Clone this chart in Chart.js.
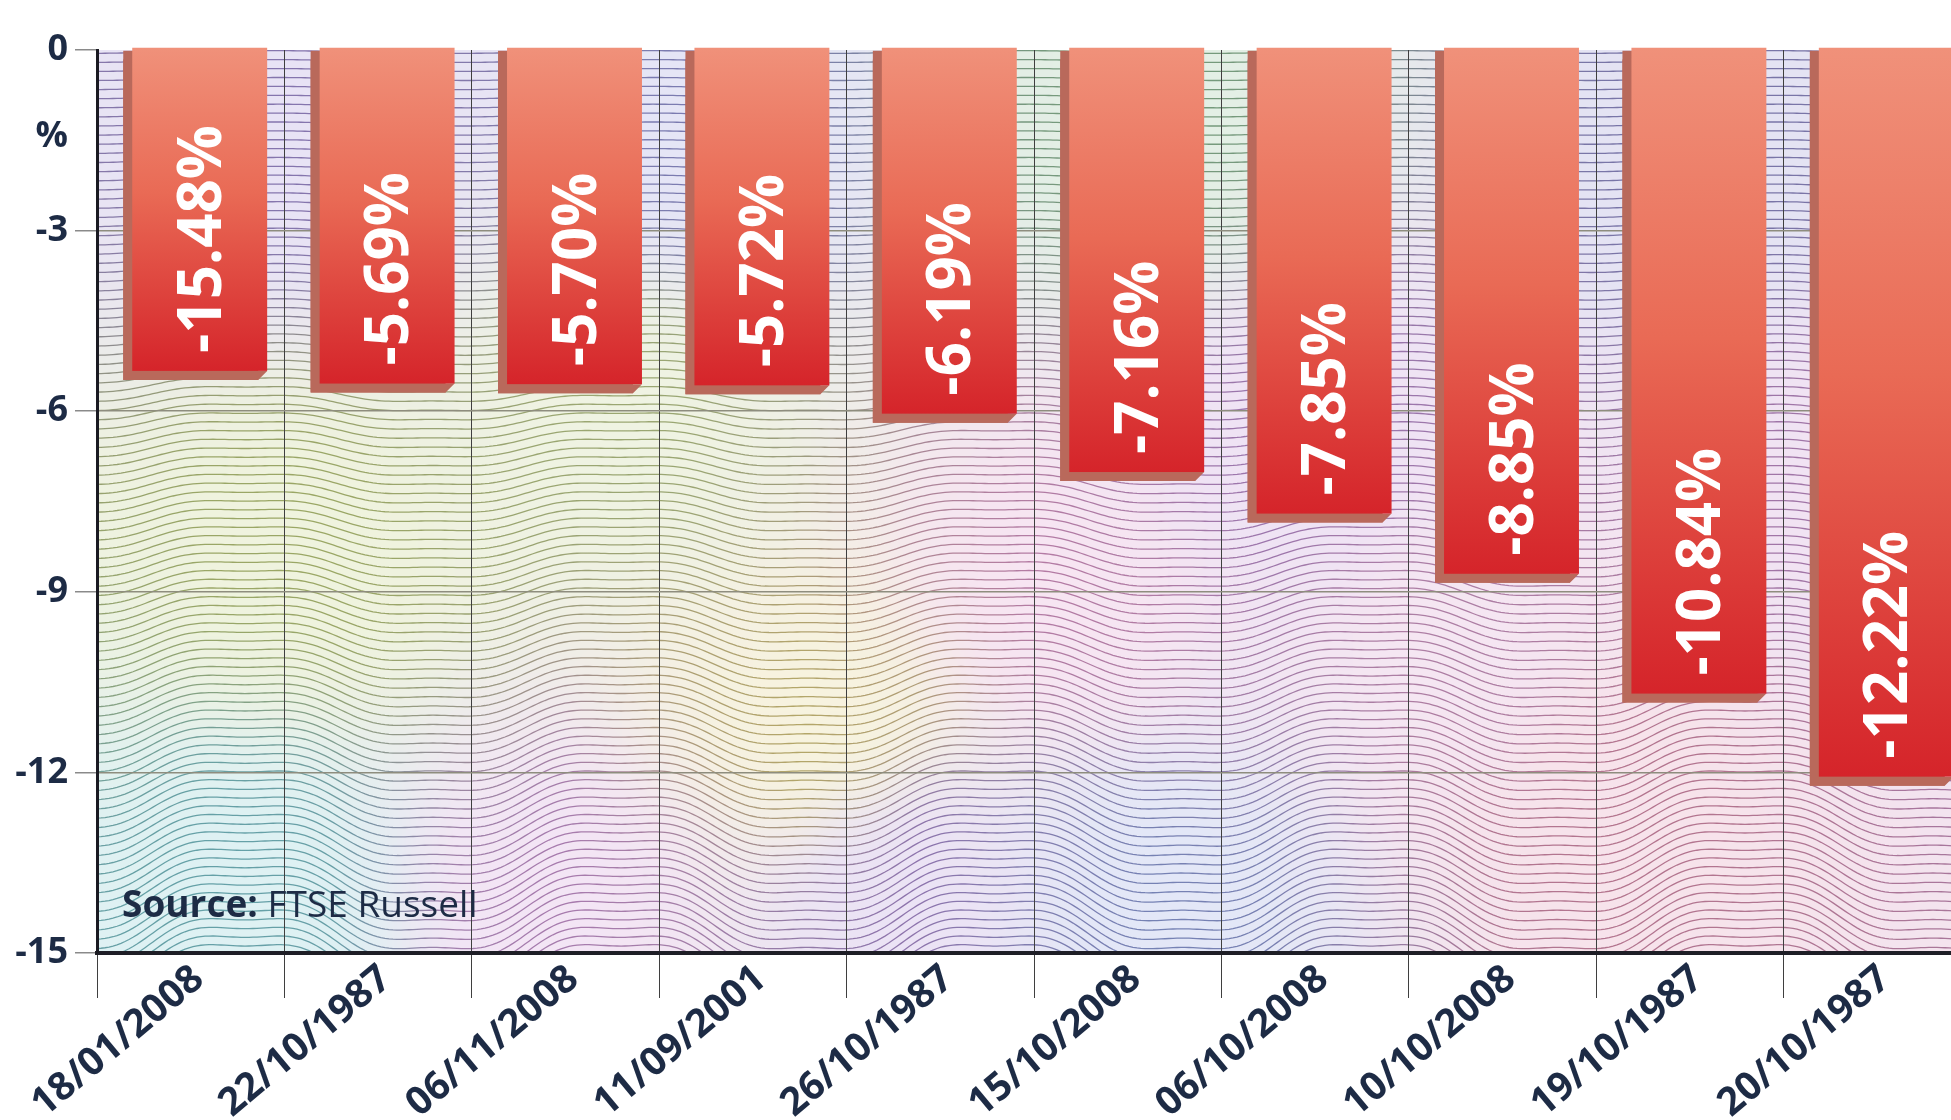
<!DOCTYPE html>
<html><head><meta charset="utf-8">
<script src="https://cdn.jsdelivr.net/npm/chart.js@4"></script>
<style>html,body{margin:0;padding:0;background:#fff;overflow:hidden;width:1951px;height:1120px}canvas{display:block}</style>
</head><body>
<canvas id="c" width="1975" height="1120"></canvas>
<script>
const categories = ['18/01/2008','22/10/1987','06/11/2008','11/09/2001','26/10/1987','15/10/2008','06/10/2008','10/10/2008','19/10/1987','20/10/1987'];
const values = [-5.48,-5.69,-5.70,-5.72,-6.19,-7.16,-7.85,-8.85,-10.84,-12.22];
const valueLabels = ['-15.48%','-5.69%','-5.70%','-5.72%','-6.19%','-7.16%','-7.85%','-8.85%','-10.84%','-12.22%'];
const yTicks = [0,-3,-6,-9,-12,-15];
const yUnit = '%';
const sourceBold = 'Source:';
const sourceRest = ' FTSE Russell';

const NAVY = '#1d2b45';
const FONT = '"Open Sans", "DejaVu Sans", sans-serif';
const DEPTH = 9;

// decorative colour field of the guilloche background (x, y in page pixels, rgb)
const tintAnchors = [
  [300, 150, [140,115,205]], [700, 150, [125,125,210]], [1150, 120, [115,175,125]],
  [1700, 150, [120,115,195]], [300, 550, [175,195,90]], [620, 420, [175,195,110]],
  [820, 720, [215,195,95]], [1050, 600, [215,125,190]], [1300, 450, [175,115,205]],
  [250, 900, [90,185,195]], [550, 900, [195,125,205]], [900, 880, [155,115,205]],
  [1150, 900, [115,135,215]], [1600, 800, [215,115,155]], [1850, 500, [185,115,195]],
  [1450, 650, [205,130,190]]
];
function fieldColor(x, y) {
  let s = 0, r = 0, g = 0, b = 0;
  for (const [ax, ay, c] of tintAnchors) {
    const d2 = (x - ax) * (x - ax) + (y - ay) * (y - ay) + 2000;
    const w = 1 / (d2 * d2);
    s += w; r += w * c[0]; g += w * c[1]; b += w * c[2];
  }
  return [r / s, g / s, b / s];
}

const bgPlugin = {
  id: 'bg',
  beforeDraw(chart) {
    const {ctx, chartArea: a} = chart;
    const W = a.right - a.left, H = a.bottom - a.top;
    ctx.save();
    ctx.beginPath(); ctx.rect(a.left, a.top, W, H); ctx.clip();
    const off = document.createElement('canvas');
    const gw = 50, gh = 24;
    off.width = gw; off.height = gh;
    const octx = off.getContext('2d');
    const img = octx.createImageData(gw, gh);
    for (let j = 0; j < gh; j++) for (let i = 0; i < gw; i++) {
      const c = fieldColor(a.left + (i + 0.5) * W / gw, a.top + (j + 0.5) * H / gh);
      const k = (j * gw + i) * 4;
      img.data[k] = 255 * 0.8 + c[0] * 0.2;
      img.data[k + 1] = 255 * 0.8 + c[1] * 0.2;
      img.data[k + 2] = 255 * 0.8 + c[2] * 0.2;
      img.data[k + 3] = 255;
    }
    octx.putImageData(img, 0, 0);
    ctx.imageSmoothingEnabled = true;
    ctx.drawImage(off, a.left, a.top, W, H);
    ctx.lineWidth = 1.3;
    for (let y0 = a.top + 2; y0 < a.bottom + 40; y0 += 9) {
      const t = Math.max(0, (y0 - a.top) / H);
      const A = 1.5 + 27 * Math.pow(t, 1.4);
      const grad = ctx.createLinearGradient(a.left, 0, a.right, 0);
      for (let s = 0; s <= 16; s++) {
        const c = fieldColor(a.left + s * W / 16, y0);
        grad.addColorStop(s / 16, `rgba(${(c[0]*0.75)|0},${(c[1]*0.75)|0},${(c[2]*0.75)|0},0.78)`);
      }
      ctx.strokeStyle = grad;
      ctx.beginPath();
      for (let x = a.left; x <= a.right + 5; x += 4) {
        const ph = 2 * Math.PI * (x - 339) / 375;
        const y = y0 + A * (Math.sin(ph) + 0.18 * Math.sin(3 * ph));
        if (x === a.left) ctx.moveTo(x, y); else ctx.lineTo(x, y);
      }
      ctx.stroke();
    }
    ctx.restore();
  }
};

const barPlugin = {
  id: 'bar3d',
  afterDatasetsDraw(chart) {
    const {ctx} = chart;
    const meta = chart.getDatasetMeta(0);
    meta.data.forEach((el, i) => {
      const {x, y, base, width} = el.getProps(['x', 'y', 'base', 'width'], true);
      const l = x - width / 2, r = x + width / 2;
      ctx.save();
      ctx.fillStyle = '#b9695b';
      ctx.beginPath();
      ctx.moveTo(l + DEPTH, base);
      ctx.lineTo(l, base + DEPTH);
      ctx.lineTo(l, y);
      ctx.lineTo(r, y);
      ctx.lineTo(r + DEPTH, y - DEPTH);
      ctx.lineTo(l + DEPTH, y - DEPTH);
      ctx.closePath();
      ctx.fill();
      const top = base - 3, bot = y - DEPTH;
      const g = ctx.createLinearGradient(0, top, 0, bot);
      g.addColorStop(0, '#f0917a');
      g.addColorStop(0.45, '#e96a55');
      g.addColorStop(1, '#d5242a');
      ctx.fillStyle = g;
      ctx.fillRect(l + DEPTH, top, width, bot - top);
      const cx = l + DEPTH + width / 2;
      ctx.font = 'bold 60px ' + FONT;
      ctx.fillStyle = '#ffffff';
      ctx.textAlign = 'left';
      ctx.textBaseline = 'alphabetic';
      ctx.translate(cx + 21, bot - 18);
      ctx.rotate(-Math.PI / 2);
      ctx.fillText(valueLabels[i], 0, 0);
      ctx.restore();
    });
  }
};

const textPlugin = {
  id: 'texts',
  afterDraw(chart) {
    const {ctx} = chart;
    ctx.save();
    ctx.fillStyle = NAVY;
    ctx.font = 'bold 36px ' + FONT;
    ctx.textAlign = 'right';
    ctx.textBaseline = 'middle';
    ctx.fillText(yUnit, 68, 137);
    ctx.textAlign = 'left';
    ctx.textBaseline = 'alphabetic';
    ctx.font = 'bold 37px ' + FONT;
    ctx.fillText(sourceBold, 122, 917);
    const w = ctx.measureText(sourceBold).width;
    ctx.font = '37px ' + FONT;
    ctx.fillText(sourceRest, 122 + w, 917);
    ctx.restore();
  }
};

new Chart(document.getElementById('c'), {
  type: 'bar',
  data: {
    labels: categories,
    datasets: [{
      data: values,
      backgroundColor: '#b9695b',
      borderWidth: 0,
      barPercentage: 0.72,
      categoryPercentage: 1
    }]
  },
  options: {
    responsive: false,
    animation: false,
    layout: {padding: {top: 50, right: 4, left: 0, bottom: 0}},
    plugins: {legend: {display: false}, tooltip: {enabled: false}, title: {display: false}},
    scales: {
      x: {
        offset: true,
        grid: {offset: true, color: '#3f3f3f', lineWidth: 1, tickLength: 45, drawTicks: true},
        border: {color: '#1e1e26', width: 4},
        ticks: {
          minRotation: 40, maxRotation: 40, autoSkip: false,
          font: {family: FONT, weight: 'bold', size: 39},
          color: NAVY, padding: -42, labelOffset: 8
        },
        afterFit: s => { s.height = 1120 - 953; }
      },
      y: {
        min: -15, max: 0,
        afterBuildTicks: s => { s.ticks = yTicks.map(v => ({value: v})); },
        grid: {
          color: c => (c.tick && (c.tick.value === 0 || c.tick.value === -15)) ? 'rgba(0,0,0,0)' : '#8e8d7e',
          tickColor: '#8a8a8a', lineWidth: 1.5, tickLength: 22, drawTicks: true
        },
        border: {color: '#1a1a22', width: 3},
        ticks: {font: {family: FONT, weight: 'bold', size: 36}, color: NAVY, padding: 7},
        afterFit: s => { s.width = 97; }
      }
    }
  },
  plugins: [bgPlugin, barPlugin, textPlugin]
});
</script>
</body></html>
